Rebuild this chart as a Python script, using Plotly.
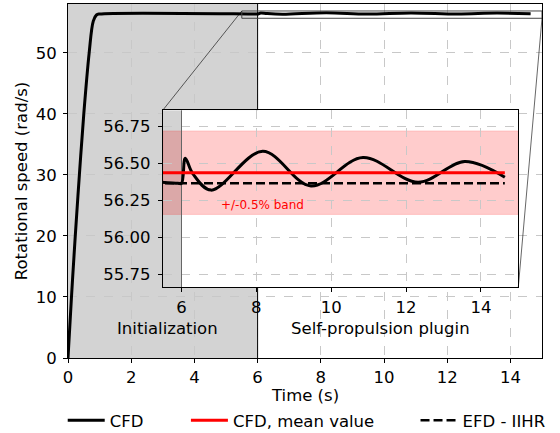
import plotly.graph_objects as go

# ---------------- data ----------------
t_cfd = [0, 0.11, 0.23, 0.36, 0.5, 0.67, 0.8, 0.9, 1.0, 5.9, 6.0, 6.1, 6.3,
         6.79, 8.17, 9.46, 10.85, 12.32, 13.57, 14.64]
n_cfd = [0, 10, 20, 30, 40, 50, 55.2, 56.2, 56.364, 56.364, 56.364, 56.534, 56.43,
         56.318, 56.58, 56.346, 56.538, 56.371, 56.511, 56.405]
t_ref = [0, 14.64]
n_mean = [56.436, 56.436]
n_efd = [56.364, 56.364]
band_pct = 0.5          # +/- percent band around the mean
init_end = 6.0          # end of initialization phase (s)

x_ticks_main = [0, 2, 4, 6, 8, 10, 12, 14]
y_ticks_main = [0, 10, 20, 30, 40, 50]
x_ticks_inset = [6, 8, 10, 12, 14]
y_ticks_inset = [55.75, 56.00, 56.25, 56.50, 56.75]

# ---------------- layout constants ----------------
FONT = "DejaVu Sans"
FS = 16.5
W, H = 560, 433
main_xr = [0, 15]
main_yr = [0, 58]
ins_xr = [5.5, 15]
ins_yr = [55.662, 56.858]
ins_dx = [0.2, 0.95]
ins_dy = [0.2, 0.7]
grid = dict(showgrid=True, gridcolor="#c8c8c8", griddash="dash", gridwidth=0.8)
frame = dict(showline=True, mirror=True, linecolor="black", linewidth=1,
             ticks="outside", ticklen=4, tickcolor="black", zeroline=False, automargin=False,
             tickfont=dict(family=FONT, size=FS, color="black"))

fig = go.Figure()

# main axes
fig.add_trace(go.Scatter(x=t_cfd, y=n_cfd, mode="lines", name="CFD",
                         line=dict(color="black", width=3, shape="spline"),
                         xaxis="x", yaxis="y", legend="legend"))
# inset axes
fig.add_trace(go.Scatter(x=t_cfd, y=n_cfd, mode="lines", name="CFD", showlegend=False,
                         line=dict(color="black", width=3, shape="spline"),
                         xaxis="x2", yaxis="y2"))
fig.add_trace(go.Scatter(x=t_ref, y=n_mean, mode="lines", name="CFD, mean value",
                         line=dict(color="red", width=3),
                         xaxis="x2", yaxis="y2", legend="legend2"))
fig.add_trace(go.Scatter(x=t_ref, y=n_efd, mode="lines", name="EFD - IIHR",
                         line=dict(color="black", width=2.5, dash="9px,4px"),
                         xaxis="x2", yaxis="y2", legend="legend3"))

mean_v = n_mean[0]
band_lo = mean_v * (1 - band_pct / 100)
band_hi = mean_v * (1 + band_pct / 100)

shapes = [
    # initialization span (main)
    dict(type="rect", xref="x", yref="y", x0=main_xr[0], x1=init_end, y0=main_yr[0], y1=main_yr[1],
         fillcolor="#d3d3d3", line=dict(width=0), layer="below"),
    dict(type="line", xref="x", yref="y", x0=init_end, x1=init_end, y0=main_yr[0], y1=main_yr[1],
         line=dict(color="black", width=1), layer="between"),
    # inset white background
    dict(type="rect", xref="x2", yref="y2", x0=ins_xr[0], x1=ins_xr[1], y0=ins_yr[0], y1=ins_yr[1],
         fillcolor="white", line=dict(width=0), layer="below"),
    # inset initialization span
    dict(type="rect", xref="x2", yref="y2", x0=ins_xr[0], x1=init_end, y0=ins_yr[0], y1=ins_yr[1],
         fillcolor="#d3d3d3", line=dict(width=0), layer="below"),
    # +/- band
    dict(type="rect", xref="x2", yref="y2", x0=ins_xr[0], x1=ins_xr[1], y0=band_lo, y1=band_hi,
         fillcolor="rgba(255,0,0,0.2)", line=dict(color="rgba(255,0,0,0.15)", width=1), layer="below"),
    # inset span edge
    dict(type="line", xref="x2", yref="y2", x0=init_end, x1=init_end, y0=ins_yr[0], y1=ins_yr[1],
         line=dict(color="#666666", width=1), layer="between"),
    # zoom rectangle in main axes
    dict(type="rect", xref="x", yref="y", x0=ins_xr[0], x1=ins_xr[1], y0=ins_yr[0], y1=ins_yr[1],
         line=dict(color="#444444", width=1), layer="above"),
    # connectors
    dict(type="line", xref="paper", yref="paper",
         x0=ins_xr[0] / main_xr[1], y0=ins_yr[1] / main_yr[1], x1=ins_dx[0], y1=ins_dy[1],
         line=dict(color="rgba(0,0,0,0.6)", width=1), layer="above"),
    dict(type="line", xref="paper", yref="paper",
         x0=ins_xr[1] / main_xr[1], y0=ins_yr[0] / main_yr[1], x1=ins_dx[1], y1=ins_dy[0],
         line=dict(color="rgba(0,0,0,0.6)", width=1), layer="above"),
]

annotations = [
    dict(text="Time (s)", x=0.5, y=0, xref="paper", yref="paper", xanchor="center",
         yanchor="middle", yshift=-37, showarrow=False,
         font=dict(family=FONT, size=FS, color="black")),
    dict(text="Initialization", x=1.5, y=4.8, xref="x", yref="y", xanchor="left", yanchor="middle",
         showarrow=False, font=dict(family=FONT, size=FS, color="black")),
    dict(text="Self-propulsion plugin", x=7.0, y=4.8, xref="x", yref="y", xanchor="left",
         yanchor="middle", showarrow=False, font=dict(family=FONT, size=FS, color="black")),
    dict(text="+/-0.5% band", x=7.0, y=56.215, xref="x2", yref="y2", xanchor="left",
         yanchor="middle", showarrow=False, font=dict(family=FONT, size=12, color="red")),
]

leg_common = dict(orientation="h", xref="container", yref="container", yanchor="middle",
                  xanchor="left", y=0.029, bgcolor="rgba(0,0,0,0)", borderwidth=0,
                  font=dict(family=FONT, size=FS, color="black"), itemwidth=37)

fig.update_layout(
    width=W, height=H,
    margin=dict(l=68, r=18, t=4, b=75),
    paper_bgcolor="white", plot_bgcolor="white",
    font=dict(family=FONT, size=FS, color="black"),
    xaxis=dict(domain=[0, 1], range=main_xr, tickvals=x_ticks_main, anchor="y",
               ticklabelstandoff=0, **grid, **frame),
    yaxis=dict(domain=[0, 1], range=main_yr, tickvals=y_ticks_main, anchor="x",
               ticklabelstandoff=3,
               title=dict(text="Rotational speed (rad/s)", standoff=3, font=dict(family=FONT, size=FS)),
               **grid, **frame),
    xaxis2=dict(domain=ins_dx, range=ins_xr, tickvals=x_ticks_inset, anchor="y2",
                ticklabelstandoff=1, **grid, **frame),
    yaxis2=dict(domain=ins_dy, range=ins_yr, tickvals=y_ticks_inset, tickformat=".2f",
                anchor="x2", ticklabelstandoff=4, **grid, **frame),
    shapes=shapes,
    annotations=annotations,
    legend=dict(x=0.112, **leg_common),
    legend2=dict(x=0.332, **leg_common),
    legend3=dict(x=0.742, **leg_common),
)

fig.write_html("out.html", config={"displayModeBar": False},
               post_script="document.body.style.margin='0px';")
